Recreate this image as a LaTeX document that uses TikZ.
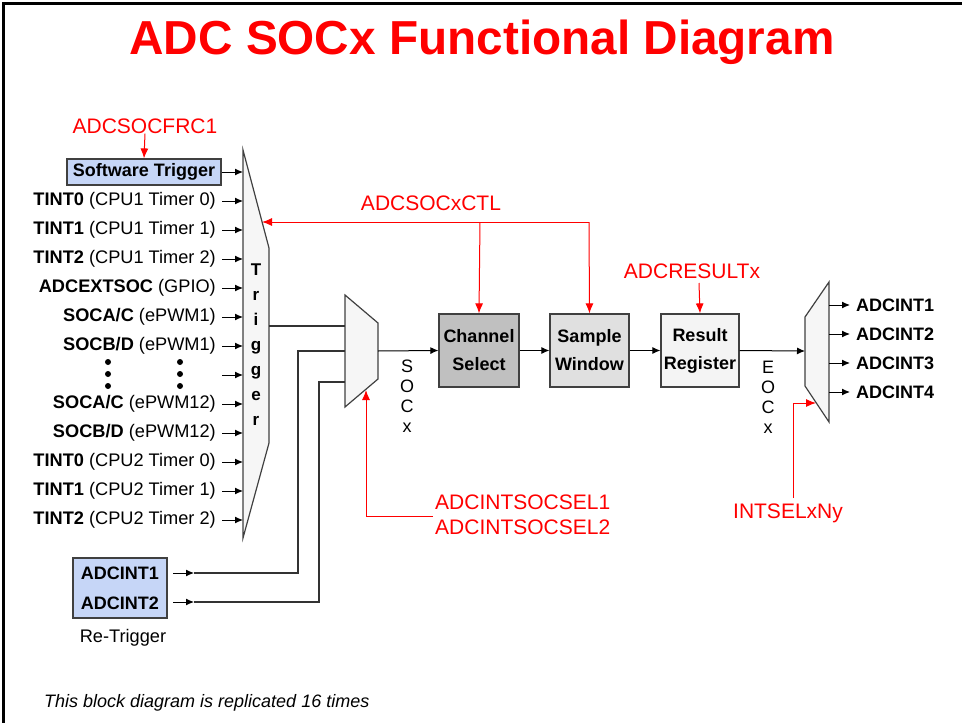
\documentclass[tikz,border=0pt]{standalone}
\usepackage{fontspec}
\setmainfont{Liberation Sans}
\usetikzlibrary{arrows.meta}
\definecolor{swblue}{RGB}{198,214,247}
\definecolor{chgray}{RGB}{192,192,192}
\definecolor{swgray}{RGB}{224,224,224}
\definecolor{rrgray}{RGB}{244,244,244}
\definecolor{muxfill}{RGB}{246,246,246}
\definecolor{edgegray}{RGB}{64,64,64}
\begin{document}
\begin{tikzpicture}[x=1pt,y=-1pt,
  lbl/.style={font=\fontsize{18.2}{20}\selectfont, inner sep=0pt},
  reglabel/.style={text=red, font=\fontsize{21}{25}\selectfont, inner sep=0pt},
  blk/.style={draw=edgegray, line width=1.2pt, font=\fontsize{18}{28}\selectfont\bfseries, align=center, inner sep=0pt},
  arr/.style={-{Latex[length=8pt,width=7pt]}, line width=1pt},
  rarr/.style={-{Latex[length=10pt,width=8pt]}, red, line width=1pt},
  mux/.style={draw=edgegray, fill=muxfill, line width=1.2pt},
  wire/.style={line width=1.2pt, draw=black!80},
]
\useasboundingbox (0,0) rectangle (962,723);
\draw[line width=3pt] (3,723) -- (3,3) -- (962,3);

% title
\node[text=red, font=\fontsize{47.7}{50}\selectfont\bfseries, inner sep=0pt] (title) at (482,42) {ADC SOCx Functional Diagram};

% trigger mux
\coordinate (tA) at (243,150);
\coordinate (tB) at (269,248);
\coordinate (tC) at (269,443);
\coordinate (tD) at (243,538);
\draw[mux] (tA) -- (tB) -- (tC) -- (tD) -- cycle;
\node[font=\fontsize{17}{25}\selectfont\bfseries, align=center, inner sep=0pt] (trig) at (256,345) {T\\r\\i\\g\\g\\e\\r};

% software trigger
\node[blk, fill=swblue, minimum width=154pt, minimum height=26pt] (swt) at (144,172) {Software Trigger};
\coordinate (ti0) at (243,172);
\draw[arr] (swt.east) -- (ti0);

% inputs
\foreach \i/\y/\t in {1/201/{\textbf{TINT0} (CPU1 Timer 0)},
                      2/230/{\textbf{TINT1} (CPU1 Timer 1)},
                      3/259/{\textbf{TINT2} (CPU1 Timer 2)},
                      4/288/{\textbf{ADCEXTSOC} (GPIO)},
                      5/317/{\textbf{SOCA/C} (ePWM1)},
                      6/346/{\textbf{SOCB/D} (ePWM1)},
                      8/404/{\textbf{SOCA/C} (ePWM12)},
                      9/433/{\textbf{SOCB/D} (ePWM12)},
                      10/462/{\textbf{TINT0} (CPU2 Timer 0)},
                      11/491/{\textbf{TINT1} (CPU2 Timer 1)},
                      12/520/{\textbf{TINT2} (CPU2 Timer 2)}}{
  \node[lbl, anchor=east] (in\i) at (216,\y) {\t};
  \coordinate (ti\i) at (243,\y);
  \draw[arr] ([xshift=6pt]in\i.east) -- (ti\i);
}
\coordinate (in7) at (222,375);
\coordinate (ti7) at (243,375);
\draw[arr] (in7) -- (ti7);
\foreach \x in {108,180}{
  \foreach \y in {362,374,386}{
    \fill (\x,\y) circle (3pt);
  }
}

% SOC mux
\coordinate (sA) at (345,295);
\coordinate (sB) at (378,323);
\coordinate (sC) at (378,379);
\coordinate (sD) at (345,407);
\draw[mux] (sA) -- (sB) -- (sC) -- (sD) -- cycle;
\coordinate (sOut) at (378,351);
\coordinate (tOut) at (269,326);
\coordinate (sIn1) at (345,326);
\coordinate (sIn2) at (345,351);
\coordinate (sIn3) at (345,382);
\draw[wire] (tOut) -- (sIn1);

% ADCINT re-trigger box
\node[blk, fill=swblue, minimum width=94pt, minimum height=60pt, align=center, font=\fontsize{18}{30}\selectfont\bfseries] (ai) at (120,588) {ADCINT1\\ADCINT2};
\node[lbl] (retrig) at (123,638) {Re-Trigger};
\coordinate (ai1s) at (173,573);
\coordinate (ai1h) at (194,573);
\coordinate (ai2s) at (173,602);
\coordinate (ai2h) at (194,602);
\draw[arr] (ai1s) -- (ai1h);
\draw[arr] (ai2s) -- (ai2h);
\draw[wire] (ai1h) -- (298,573) -- (298,351) -- (sIn2);
\draw[wire] (ai2h) -- (319,602) -- (319,382) -- (sIn3);

% SOCx text
\node[font=\fontsize{18}{20}\selectfont, align=center, inner sep=0pt] (socx) at (407,396) {S\\O\\C\\x};

% blocks
\node[blk, fill=chgray, minimum width=80pt, minimum height=73pt] (cs) at (479,350.5) {Channel\\Select};
\node[blk, fill=swgray, minimum width=79pt, minimum height=73pt] (sw) at (589.5,350.5) {Sample\\Window};
\node[blk, fill=rrgray, minimum width=78pt, minimum height=73pt] (rr) at (700,350.5) {Result\\Register};
\draw[arr] (sOut) -- (cs.west);
\draw[arr] (cs.east) -- (sw.west);
\draw[arr] (sw.east) -- (rr.west);

% INT mux
\coordinate (mA) at (805,317);
\coordinate (mB) at (829,282);
\coordinate (mC) at (829,422);
\coordinate (mD) at (805,386);
\draw[mux] (mA) -- (mB) -- (mC) -- (mD) -- cycle;
\coordinate (mIn) at (805,351);
\draw[arr] (rr.east) -- (mIn);
\node[font=\fontsize{18}{20}\selectfont, align=center, inner sep=0pt] (eocx) at (768,397) {E\\O\\C\\x};

\foreach \i/\y in {1/305,2/334,3/363,4/392}{
  \coordinate (mo\i) at (829,\y);
  \node[lbl, font=\fontsize{18}{20}\selectfont\bfseries, anchor=west] (out\i) at (856,\y) {ADCINT\i};
  \draw[arr] (mo\i) -- ([xshift=-6pt]out\i.west);
}

% red register labels
\node[reglabel] (frc) at (145,126) {ADCSOCFRC1};
\draw[rarr] (frc.south) -- (swt.north);

\node[reglabel] (ctl) at (431,203) {ADCSOCxCTL};
\coordinate (ctlR) at (589,222);
\coordinate (ctlM) at (480,222);
\coordinate (ctlHit) at (262,222);
\draw[rarr] (ctlR) -- (ctlHit);
\draw[rarr] (ctlM) -- (cs.north);
\draw[rarr] (ctlR) -- (sw.north);

\node[reglabel] (res) at (692,271) {ADCRESULTx};
\draw[rarr] (699,283) -- (rr.north);

\node[reglabel, anchor=west, align=left] (insel) at (435,514.5) {ADCINTSOCSEL1\\ADCINTSOCSEL2};
\coordinate (inselHit) at (366,390);
\draw[rarr] (433,516) -- (366,516) -- (inselHit);

\node[reglabel] (intsel) at (788,513) {INTSELxNy};
\coordinate (intselHit) at (816,403);
\draw[rarr] (793,498) -- (793,403) -- (intselHit);

% footnote
\node[lbl, font=\fontsize{18}{20}\selectfont\itshape, anchor=west] (note) at (44,703) {This block diagram is replicated 16 times};
\end{tikzpicture}
\end{document}
